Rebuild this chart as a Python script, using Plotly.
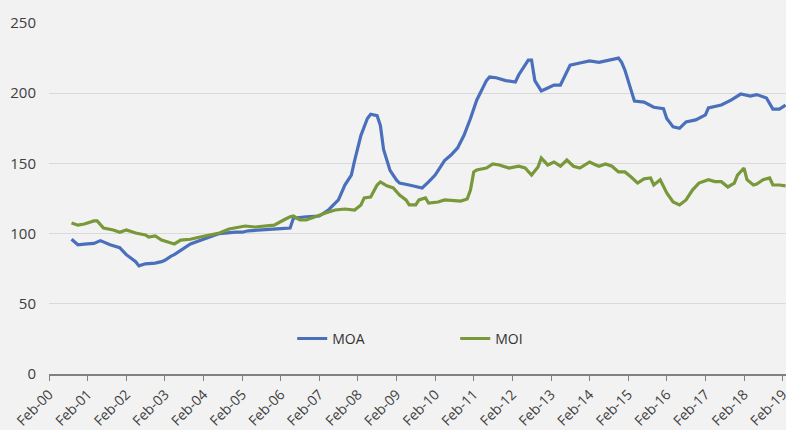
import plotly.graph_objects as go

moa_dates = ["2000-09","2000-11","2001-01","2001-04","2001-06","2001-09","2001-12","2002-02","2002-05","2002-06",
             "2002-08","2002-11","2003-01","2003-02","2003-04","2003-05","2003-07","2003-10","2004-02","2004-07",
             "2004-12","2005-02","2005-04","2005-09","2005-12","2006-02","2006-05","2006-06","2006-10","2007-02",
             "2007-05","2007-08","2007-10","2007-12","2008-01","2008-03","2008-05","2008-06","2008-08","2008-09",
             "2008-10","2008-12","2009-02","2009-03","2009-06","2009-09","2009-10","2009-12","2010-02","2010-05",
             "2010-07","2010-09","2010-11","2011-01","2011-03","2011-06","2011-07","2011-09","2011-12","2012-03",
             "2012-04","2012-07","2012-08","2012-09","2012-11","2013-01","2013-03","2013-05","2013-08","2013-11",
             "2014-02","2014-05","2014-08","2014-11","2014-12","2015-01","2015-03","2015-04","2015-07","2015-10",
             "2016-01","2016-02","2016-04","2016-06","2016-08","2016-11","2017-02","2017-03","2017-07","2017-10",
             "2018-01","2018-04","2018-06","2018-09","2018-11","2019-01","2019-03"]
moa_values = [96, 92, 92.5, 93, 95, 92, 90, 85, 80, 77,
              78.5, 79, 80, 81, 84, 85, 88, 92.6, 96, 100,
              101, 101, 102, 102.5, 103.3, 103.5, 104, 111, 112, 112.5,
              117, 124, 134.6, 141.7, 152, 170, 182, 185, 184, 177,
              160, 145, 138, 136, 134.6, 133, 132.5, 136.8, 141.7, 152,
              156, 161, 170, 182, 195, 209, 211.5, 211, 209, 208,
              213, 223.6, 223.6, 209, 201.6, 203.7, 205.8, 205.8, 220, 221.5,
              223, 222, 223.6, 225, 222, 216.5, 202, 194.4, 193.7, 190,
              189, 182, 176, 175, 179.5, 181, 184.5, 189.5, 191.6, 195,
              199.4, 198, 199, 196.6, 188.7, 188.7, 191.6]

moi_dates = ["2000-09","2000-11","2001-01","2001-04","2001-05","2001-07","2001-10","2001-12","2002-02","2002-05",
             "2002-08","2002-09","2002-11","2003-01","2003-04","2003-05","2003-07","2003-10","2004-01","2004-04",
             "2004-07","2004-10","2005-01","2005-03","2005-06","2005-09","2005-12","2006-03","2006-05","2006-06",
             "2006-08","2006-10","2007-01","2007-04","2007-07","2007-10","2008-01","2008-03","2008-04","2008-06",
             "2008-08","2008-09","2008-11","2009-01","2009-03","2009-05","2009-06","2009-08","2009-09","2009-11",
             "2009-12","2010-03","2010-05","2010-08","2010-10","2010-12","2011-01","2011-02","2011-03","2011-06",
             "2011-08","2011-10","2012-01","2012-04","2012-06","2012-08","2012-10","2012-11","2013-01","2013-03",
             "2013-05","2013-07","2013-09","2013-11","2014-02","2014-04","2014-05","2014-07","2014-09","2014-11",
             "2015-01","2015-03","2015-05","2015-07","2015-09","2015-10","2015-12","2016-02","2016-04","2016-06",
             "2016-08","2016-10","2016-12","2017-03","2017-05","2017-07","2017-09","2017-11","2017-12","2018-02",
             "2018-03","2018-05","2018-06","2018-08","2018-10","2018-11","2019-01","2019-03"]
moi_values = [107.5, 106, 106.8, 109, 109, 104, 102.6, 101, 102.6, 100.4,
              99, 97.6, 98.3, 95.4, 93.3, 92.6, 95.4, 96, 97.6, 99,
              100.4, 103.3, 104.7, 105.4, 104.7, 105.4, 106, 109.7, 112, 112.5,
              109.7, 109.7, 112.5, 114.7, 116.8, 117.5, 116.8, 120.4, 125.4, 126,
              134.6, 136.8, 134, 132.5, 127.5, 124, 120.4, 120.4, 124, 125.4,
              121.8, 122.5, 124, 123.2, 123.2, 124.6, 131, 143.9, 145.3, 146.7,
              149.6, 148.9, 146.7, 148, 146.7, 141.7, 147.4, 153.8, 148.9, 151,
              148, 152.4, 148, 146.7, 151, 148.9, 148, 149.6, 148, 143.9,
              143.9, 140.3, 136, 139, 139.6, 134.6, 138.4, 129, 122.5, 120.4,
              124, 131, 136, 138.4, 137, 137, 133.2, 136, 141.7, 146.7,
              138.4, 134.6, 135.3, 138.4, 139.6, 134.6, 134.6, 134]

tick_dates = ["%d-02-01" % y for y in range(2000, 2020)]
tick_labels = ["Feb-%02d" % (y % 100) for y in range(2000, 2020)]
y_ticks = [0, 50, 100, 150, 200, 250]

fig = go.Figure()
fig.add_trace(go.Scatter(x=[d + "-01" for d in moa_dates], y=moa_values, mode="lines", name="MOA",
                         line=dict(color="#4A70BC", width=3.2)))
fig.add_trace(go.Scatter(x=[d + "-01" for d in moi_dates], y=moi_values, mode="lines", name="MOI",
                         line=dict(color="#78983A", width=3.2)))

fig.update_layout(
    width=786, height=430,
    margin=dict(l=49, r=0, t=23, b=56, autoexpand=False),
    paper_bgcolor="#F2F2F2", plot_bgcolor="#F2F2F2",
    font=dict(family="Open Sans", size=12, color="#404040"),
    showlegend=True,
    legend=dict(orientation="h", x=0.33, y=0.10, xanchor="left", yanchor="middle",
                bgcolor="rgba(0,0,0,0)", entrywidth=118, entrywidthmode="pixels",
                font=dict(size=14, color="#333333")),
    xaxis=dict(type="date", range=["2000-02-01", "2019-03-05"], tickvals=tick_dates, ticktext=tick_labels,
               tickangle=-45, ticks="outside", ticklen=5, tickcolor="#808080", automargin=False,
               ticklabeloverflow="allow",
               showline=True, linecolor="#808080", linewidth=1.5, showgrid=False, zeroline=False,
               tickfont=dict(size=14, color="#404040")),
    yaxis=dict(range=[0, 250], tickvals=y_ticks, showgrid=True, gridcolor="#D9D9D9", gridwidth=1,
               zeroline=False, showline=False, ticks="", ticklabelstandoff=12, automargin=False,
               tickfont=dict(size=15, color="#404040")),
)

fig.write_html("out.html", config={"displayModeBar": False},
               post_script="document.body.style.margin='0';document.body.style.background='#F2F2F2';"
                           "document.body.style.overflow='hidden';")
